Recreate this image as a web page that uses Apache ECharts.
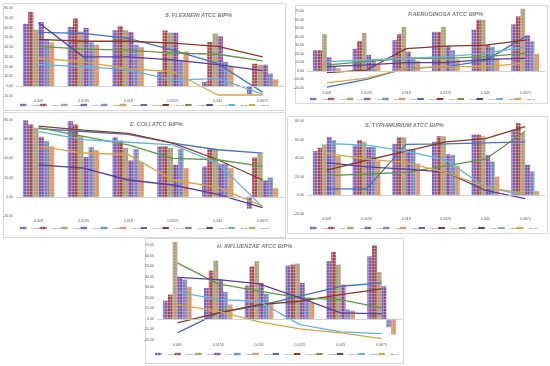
<!DOCTYPE html>
<html><head><meta charset="utf-8">
<script src="https://cdn.jsdelivr.net/npm/echarts@6/dist/echarts.min.js"></script>
<style>html,body{margin:0;padding:0;background:#fff}#c{width:550px;height:366px}</style>
</head><body><div id="c"></div>
<script>
const categories = ['0.009','0.0135','0.018','0.0225','0.045','0.0675'];
const seriesNames = ['HSLICE','HSLUAE','HWICE','HWUAE','HEICE','HEUAE'];

// S. flexneri
const flexneriBars = [
  [63.8, 60.7, 57.2, 14.8, 4.5, -8.3],
  [75.9, 69.3, 61.4, 56.9, 45.2, 23.0],
  [57.9, 55.9, 57.2, 54.8, 53.8, 22.0],
  [65.5, 59.7, 55.5, 54.8, 51.0, 22.0],
  [48.3, 44.8, 42.4, 26.9, 25.0, 13.0],
  [44.8, 42.4, 40.0, 35.5, 20.0, 7.0]
];
const flexneriLines = [
  [55, 54, 49, 37, 23, -6],
  [48, 46, 46, 44, 40.7, 30],
  [40.7, 38, 37, 33.8, 32.7, 26],
  [65, 30, 30, 27, 22, 16],
  [22, 20, 17, 6, 8, -8],
  [28.6, 25, 18, 14.8, -9, -9]
];
// E. coli
const coliBars = [
  [79.6, 78.9, 62.1, 52.6, 31.6, -12.3],
  [75.4, 75.4, 58.6, 52.6, 49.8, 41.0],
  [71.9, 63.2, 50.9, 50.9, 49.8, 45.0],
  [62.5, 41.4, 37.9, 33.3, 34.4, 17.0],
  [57.9, 51.6, 49.8, 49.8, 34.4, 20.0],
  [52.6, 48.4, 36.1, 29.8, 29.8, 9.0]
];
const coliLines = [
  [71, 68, 65, 56, 49, 45.6],
  [73.7, 69.5, 66, 56, 38.6, 17.5],
  [72, 63, 54, 40, 38.6, 31.6],
  [33.3, 29.8, 17.5, 12.3, 2.5, -11.2],
  [68, 59.6, 56.8, 54, 35, -10.5],
  [52.6, 45.6, 43.9, 17.5, 9.8, -9.8]
];
// P. aeruginosa
const aeruginosaBars = [
  [24.3, 25.9, 35.9, 45.6, 48.3, 54.4],
  [24.3, 35.0, 42.9, 45.6, 59.8, 63.7],
  [42.9, 44.4, 51.4, 51.4, 59.8, 72.6],
  [15.8, 18.5, 22.4, 29.0, 30.0, 41.7],
  [5.8, 13.5, 15.8, 24.3, 28.2, 34.7],
  [3.1, 7.0, 11.6, 13.5, 14.7, 19.7]
];
const aeruginosaLines = [
  [-19, -10, 3, 5, 12, 40],
  [-2, 1, 26, 29, 30, 36],
  [7, 10.8, 14.7, 14.7, 16.6, 20.5],
  [5, 7, 9.7, 9.7, 13.5, 14.7],
  [10.8, 12.7, 14.7, 16.6, 20.5, 28],
  [-14, -8.5, 3, 5, 5, 9]
];
// S. typhimurium
const typhimuriumBars = [
  [47.7, 53.7, 55.5, 57.6, 65.4, 70.7],
  [51.2, 59.4, 62.5, 63.6, 65.4, 77.7],
  [54.8, 57.6, 62.5, 63.6, 63.6, 67.1],
  [62.9, 51.9, 49.5, 44.2, 43.5, 32.9],
  [59.4, 51.9, 49.5, 43.5, 36.4, 25.8],
  [42.4, 37.1, 34.3, 31.8, 20.1, 4.6]
];
const typhimuriumLines = [
  [7, 7, 54.8, 55.5, 56.5, 57.6],
  [27.2, 37.8, 47.7, 57.6, 61.1, 74],
  [21.2, 23, 24.7, 31.8, 38.9, 69],
  [35.3, 30.7, 28.3, 25, 5.3, -3.5],
  [55.8, 54, 47.7, 38.2, 8.8, 0],
  [45.2, 38.9, 35.3, 24.7, 8.8, 1.8]
];
// H. influenzae
const influenzaeBars = [
  [17.3, 29.3, 31.5, 50.5, 54.6, 59.3],
  [23.0, 45.7, 49.8, 51.4, 63.4, 69.7],
  [72.9, 55.2, 54.6, 52.4, 51.4, 44.5],
  [39.7, 37.2, 34.1, 34.1, 32.5, 30.9],
  [37.2, 25.6, 23.7, 19.9, 8.8, -7.9],
  [30.3, 13.6, 15.1, 15.1, 7.9, -14.8]
];
const influenzaeLines = [
  [-13.2, 5.7, 12.6, 21.5, 30.9, 34.1],
  [-3.8, 5.7, 13.6, 16.7, 23, 28.4],
  [53, 33.1, 26.2, 19.9, 18.3, 10.4],
  [39.4, 37.2, 33.1, 19.9, 5.7, 4.7],
  [25.6, 18.3, 16.7, -5.4, -12.3, -13.9],
  [13.6, 7.3, -2.8, -9.5, -13.2, -18.6]
];
const titles = ['S. FLEXNERI ATCC BIP%','E. COLI ATCC BIP%','P.AERUGINOSA ATCC BIP%','S. TYPHIMURIUM ATCC BIP%','H. INFLUENZAE ATCC BIP%'];
const yRanges = [[-10,80,10],[-20,80,20],[-20,70,10],[-20,80,20],[-20,70,10]];

const panelData = [
  [flexneriBars, flexneriLines],
  [coliBars, coliLines],
  [aeruginosaBars, aeruginosaLines],
  [typhimuriumBars, typhimuriumLines],
  [influenzaeBars, influenzaeLines]
];

// layout (not data)
const layouts = [
  {grid:{left:15,top:8,width:270,height:88}, frame:[3,3,282,107], title:[165,12], legend:[20,103.5], gap:-0.4},
  {grid:{left:15,top:120,width:270,height:96}, frame:[3,112,282,125], title:[130,121], legend:[20,226.5], gap:-0.4},
  {grid:{left:307,top:11,width:238,height:77}, frame:[295,5,252,98], title:[408,11], legend:[310,97.5], gap:-2.6},
  {grid:{left:307,top:121,width:238,height:93}, frame:[287,116,260,117], title:[365,122], legend:[310,226.5], gap:-2.4},
  {grid:{left:157,top:245,width:245,height:95}, frame:[145,238,258,125], title:[217,243], legend:[155,352.5], gap:-0.9}
];

const barColors = ['#5f6db4','#94503f','#8fb360','#6f5aa3','#4f97bf','#cfa24a'];
const lineColors = ['#4472c4','#8b3a22','#5c9a48','#5a3d9e','#62b4e2','#d9a53d'];

function pattern(col){
  const c = document.createElement('canvas');
  c.width = 3; c.height = 3;
  const g = c.getContext('2d');
  g.fillStyle = col; g.fillRect(0,0,3,3);
  g.fillStyle = 'rgba(255,150,215,0.5)';
  g.fillRect(2,0,1,3); g.fillRect(0,2,3,1);
  return {image: c, repeat: 'repeat'};
}
const barPatterns = barColors.map(pattern);

const FONT = 'Liberation Sans';
const option = {
  animation: false,
  backgroundColor: '#fff',
  grid: [], xAxis: [], yAxis: [], series: [], legend: [], title: [],
  graphic: []
};
const lineNames = seriesNames.map(n => n + ' ');
layouts.forEach((L, p) => {
  option.grid.push(Object.assign({containLabel:false}, L.grid));
  option.xAxis.push({
    type:'category', gridIndex:p, data:categories,
    axisLine:{show:false, onZero:false}, axisTick:{show:false},
    axisLabel:{fontSize:3.6, color:'#595959', margin:3, fontFamily:FONT}
  });
  const [mn,mx,iv] = yRanges[p];
  option.yAxis.push({
    type:'value', gridIndex:p, min:mn, max:mx, interval:iv,
    axisLine:{show:false}, axisTick:{show:false}, splitLine:{show:false},
    axisLabel:{fontSize:3.6, color:'#595959', margin:3, fontFamily:FONT, formatter:v=>v.toFixed(2)}
  });
  const [bars, lines] = panelData[p];
  bars.forEach((vals, i) => {
    const s = {
      type:'bar', name:seriesNames[i], xAxisIndex:p, yAxisIndex:p, data:vals,
      barGap:'0%', barCategoryGap:'30%', clip:false,
      itemStyle:{color:barPatterns[i]}
    };
    if (i === 0) s.markLine = {silent:true, symbol:'none', label:{show:false},
      lineStyle:{color:'#c8c8c8', width:0.8, type:'solid'}, data:[{yAxis:0}]};
    option.series.push(s);
  });
  lines.forEach((vals, i) => {
    option.series.push({
      type:'line', name:lineNames[i], xAxisIndex:p, yAxisIndex:p, data:vals,
      symbol:'none', clip:false, z:3,
      lineStyle:{color:lineColors[i], width:1.3}, itemStyle:{color:lineColors[i]}
    });
  });
  option.legend.push({
    left:L.legend[0], top:L.legend[1], width:400, padding:0, itemGap:L.gap, itemWidth:6.5, itemHeight:2.4,
    textStyle:{fontSize:2.5, color:'#595959', fontFamily:FONT},
    data: seriesNames.concat(lineNames), selectedMode:false
  });
  option.title.push({
    text: titles[p], left:L.title[0], top:L.title[1], padding:0,
    textStyle:{fontSize:5.6, fontStyle:'italic', fontWeight:'bold', color:'#7f7f7f', fontFamily:FONT}
  });
  option.graphic.push({
    type:'rect', silent:true, z:-10,
    shape:{x:L.frame[0]+0.5, y:L.frame[1]+0.5, width:L.frame[2], height:L.frame[3]},
    style:{fill:'#fff', stroke:'#d9d9d9', lineWidth:1}
  });
});
const chart = echarts.init(document.getElementById('c'), null, {renderer:'canvas'});
chart.setOption(option);
</script></body></html>
